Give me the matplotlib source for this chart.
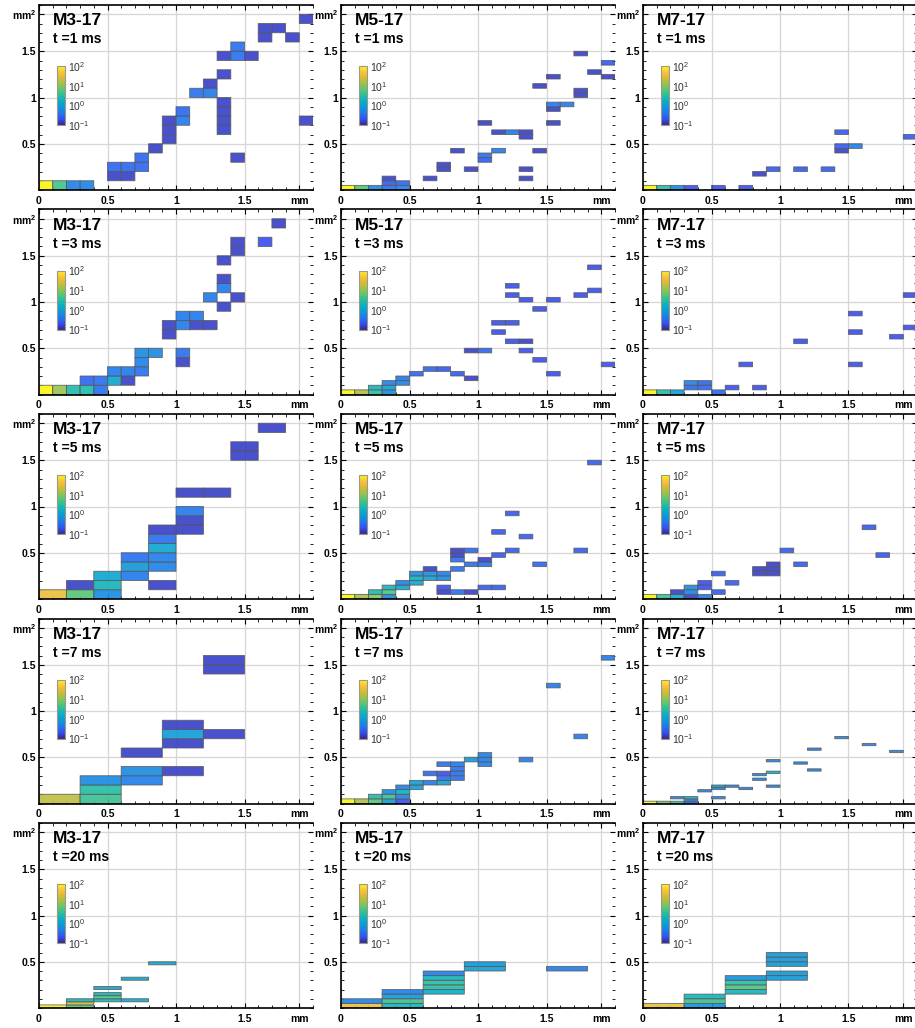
import numpy as np
import matplotlib
matplotlib.use("Agg")
import matplotlib.pyplot as plt
from matplotlib.colors import LinearSegmentedColormap, LogNorm
from matplotlib.cm import ScalarMappable
from matplotlib.ticker import MultipleLocator

plt.rcParams['font.family'] = ['Liberation Sans', 'DejaVu Sans']
plt.rcParams['mathtext.default'] = 'regular'

# parula-like colour map
parula_rgb = [(0.208, 0.166, 0.529), (0.212, 0.300, 0.960), (0.120, 0.470, 0.930),
              (0.060, 0.590, 0.850), (0.030, 0.680, 0.780), (0.150, 0.740, 0.630),
              (0.350, 0.780, 0.440), (0.620, 0.760, 0.290), (0.850, 0.730, 0.200),
              (0.990, 0.760, 0.240), (0.976, 0.983, 0.054)]
parula = LinearSegmentedColormap.from_list('parula', parula_rgb)

samples = ['M3-17', 'M5-17', 'M7-17']
times = [1, 3, 5, 7, 20]

# bin width (mm) and bin height (mm^2) for each time row / sample column
bin_dx = [[0.1, 0.1, 0.1], [0.1, 0.1, 0.1], [0.2, 0.1, 0.1], [0.3, 0.1, 0.1], [0.2, 0.3, 0.3]]
bin_dy = [[0.1, 0.05, 0.05], [0.1, 0.05, 0.05], [0.1, 0.05, 0.05], [0.1, 0.05, 0.025], [1 / 30, 0.05, 0.05]]

# occupied bins: (x bin, y bin, count density)
m3_t1 = [(0, 0, 90), (1, 0, 4.5), (2, 0, 0.5), (3, 0, 0.5), (5, 1, 0.15), (6, 1, 0.15),
         (5, 2, 0.3), (6, 2, 0.3), (7, 2, 0.3), (7, 3, 0.3), (8, 4, 0.15), (9, 5, 0.15),
         (9, 6, 0.15), (9, 7, 0.15), (10, 7, 0.4), (10, 8, 0.3), (11, 10, 0.35), (12, 10, 0.4),
         (12, 11, 0.15), (13, 6, 0.15), (13, 7, 0.15), (13, 8, 0.15), (13, 9, 0.15), (13, 12, 0.15),
         (13, 14, 0.15), (14, 14, 0.35), (14, 15, 0.35), (14, 3, 0.15), (15, 14, 0.15),
         (16, 16, 0.15), (16, 17, 0.15), (17, 17, 0.15), (18, 16, 0.15), (19, 18, 0.15), (19, 7, 0.15)]
m3_t3 = [(0, 0, 90), (1, 0, 12), (2, 0, 2.5), (3, 0, 2.5), (4, 0, 0.35), (3, 1, 0.3), (4, 1, 0.35),
         (5, 1, 1.2), (6, 1, 0.15), (5, 2, 0.4), (6, 2, 0.4), (7, 2, 0.35), (7, 3, 0.5), (7, 4, 0.6),
         (8, 4, 0.6), (10, 3, 0.15), (10, 4, 0.35), (9, 6, 0.15), (9, 7, 0.15), (10, 7, 0.4),
         (11, 7, 0.15), (12, 7, 0.15), (10, 8, 0.4), (11, 8, 0.4), (13, 9, 0.15), (12, 10, 0.4),
         (14, 10, 0.15), (13, 11, 0.4), (13, 12, 0.15), (13, 14, 0.15), (14, 15, 0.15),
         (14, 16, 0.15), (16, 16, 0.2), (17, 18, 0.15)]
m3_t5 = [(0, 0, 35), (1, 0, 6), (2, 0, 0.6), (1, 1, 0.15), (2, 1, 2), (2, 2, 1.2), (3, 2, 0.4),
         (3, 3, 0.8), (3, 4, 0.35), (4, 1, 0.15), (4, 3, 0.5), (4, 4, 0.45), (4, 5, 1.2), (4, 6, 0.35),
         (4, 7, 0.15), (5, 7, 0.15), (5, 8, 0.15), (5, 9, 0.4), (5, 11, 0.15), (6, 11, 0.15),
         (7, 15, 0.15), (7, 16, 0.15), (8, 18, 0.15)]
m3_t7 = [(0, 0, 18), (1, 0, 4), (1, 1, 3), (1, 2, 0.6), (2, 2, 0.45), (2, 3, 0.6), (3, 3, 0.15),
         (2, 5, 0.15), (3, 6, 0.15), (3, 7, 0.9), (4, 7, 0.15), (3, 8, 0.15), (4, 14, 0.15), (4, 15, 0.15)]
m3_t20 = [(0, 0, 90), (1, 0, 6), (1, 1, 25), (1, 2, 2), (2, 2, 2), (2, 3, 5), (2, 4, 2),
          (2, 6, 1.2), (3, 2, 1.2), (3, 9, 1.2), (4, 14, 1.2)]

m5_t1 = [(0, 0, 90), (1, 0, 6), (2, 0, 0.6), (3, 0, 0.35), (4, 0, 0.45), (3, 1, 0.25), (3, 2, 0.15),
         (4, 1, 0.3), (6, 2, 0.15), (7, 4, 0.15), (7, 5, 0.15), (8, 8, 0.15), (9, 4, 0.15),
         (10, 6, 0.25), (10, 7, 0.35), (10, 14, 0.15), (11, 12, 0.15), (11, 8, 0.4), (12, 12, 0.4),
         (13, 11, 0.15), (13, 12, 0.15), (13, 4, 0.15), (13, 2, 0.15), (14, 22, 0.15), (14, 8, 0.15),
         (15, 24, 0.15), (15, 18, 0.4), (15, 17, 0.15), (15, 14, 0.15), (16, 18, 0.4), (17, 29, 0.15),
         (17, 21, 0.15), (17, 20, 0.15), (18, 25, 0.15), (19, 27, 0.25), (19, 24, 0.15)]
m5_t3 = [(0, 0, 90), (1, 0, 15), (2, 0, 3), (3, 0, 0.6), (2, 1, 2), (3, 1, 1), (3, 2, 0.5),
         (4, 2, 0.5), (4, 3, 0.4), (5, 4, 0.3), (6, 5, 0.3), (7, 5, 0.25), (8, 4, 0.25), (9, 3, 0.15),
         (9, 9, 0.15), (10, 9, 0.3), (11, 15, 0.2), (12, 15, 0.2), (12, 21, 0.2), (12, 23, 0.2),
         (13, 20, 0.2), (11, 13, 0.2), (12, 11, 0.2), (13, 11, 0.15), (13, 9, 0.2), (14, 18, 0.2),
         (14, 7, 0.2), (15, 20, 0.2), (15, 4, 0.2), (17, 21, 0.2), (18, 22, 0.2), (18, 27, 0.2),
         (19, 6, 0.2)]
m5_t5 = [(0, 0, 90), (1, 0, 15), (2, 0, 10), (3, 0, 0.6), (2, 1, 2.5), (3, 1, 5), (3, 2, 2),
         (4, 2, 1.2), (4, 3, 0.5), (5, 3, 1.2), (5, 4, 1.8), (6, 4, 1), (7, 4, 0.6), (5, 5, 0.6),
         (6, 5, 0.7), (7, 5, 0.45), (6, 6, 0.15), (8, 6, 0.35), (8, 8, 0.35), (8, 9, 0.15),
         (8, 10, 0.15), (9, 10, 0.3), (9, 7, 0.35), (10, 7, 0.35), (10, 8, 0.15), (11, 9, 0.25),
         (12, 10, 0.25), (14, 7, 0.3), (17, 10, 0.25), (11, 14, 0.25), (12, 18, 0.25), (13, 13, 0.25),
         (18, 29, 0.25), (7, 1, 0.15), (7, 2, 0.2), (8, 1, 0.35), (9, 1, 0.15), (10, 2, 0.25),
         (11, 2, 0.25)]
m5_t7 = [(0, 0, 90), (1, 0, 15), (2, 0, 6), (3, 0, 0.9), (4, 0, 0.2), (2, 1, 2.5), (3, 1, 4),
         (4, 1, 0.5), (3, 2, 0.6), (4, 2, 1.8), (4, 3, 0.5), (5, 3, 0.9), (5, 4, 0.9), (6, 4, 0.4),
         (7, 4, 1), (7, 5, 0.35), (6, 6, 0.3), (7, 6, 0.2), (8, 5, 0.35), (8, 6, 0.35), (8, 7, 0.35),
         (8, 8, 0.4), (7, 8, 0.35), (9, 9, 0.8), (10, 8, 0.45), (10, 9, 0.45), (10, 10, 0.45),
         (13, 9, 0.4), (15, 25, 0.4), (17, 14, 0.4), (19, 31, 0.4)]
m5_t20 = [(0, 0, 35), (0, 1, 0.5), (1, 0, 2), (1, 1, 4), (1, 2, 0.8), (1, 3, 0.45), (2, 3, 1.5),
          (2, 4, 3), (2, 5, 3), (2, 6, 2), (2, 7, 0.45), (3, 8, 1), (3, 9, 0.8), (5, 8, 0.45)]

m7_t1 = [(0, 0, 90), (1, 0, 3), (2, 0, 0.6), (3, 0, 0.2), (5, 0, 0.2), (7, 0, 0.2), (8, 3, 0.15),
         (9, 4, 0.25), (11, 4, 0.25), (13, 4, 0.25), (14, 12, 0.25), (14, 9, 0.25), (14, 8, 0.15),
         (15, 9, 0.45), (19, 11, 0.25)]
m7_t3 = [(0, 0, 90), (1, 0, 3), (2, 0, 1), (3, 1, 0.3), (3, 2, 0.5), (4, 1, 0.3), (4, 2, 0.3),
         (5, 0, 0.3), (6, 1, 0.2), (7, 6, 0.2), (8, 1, 0.2), (11, 11, 0.2), (15, 17, 0.2),
         (15, 13, 0.2), (15, 6, 0.2), (18, 12, 0.2), (19, 21, 0.2), (19, 14, 0.2)]
m7_t5 = [(0, 0, 90), (1, 0, 4), (2, 0, 1.5), (3, 0, 0.15), (4, 0, 0.4), (2, 1, 0.15), (3, 1, 0.5),
         (5, 1, 0.25), (3, 2, 0.6), (4, 2, 0.2), (4, 3, 0.2), (6, 3, 0.25), (5, 5, 0.25), (8, 5, 0.15),
         (8, 6, 0.15), (9, 5, 0.15), (9, 6, 0.15), (9, 7, 0.15), (10, 10, 0.25), (11, 7, 0.25),
         (16, 15, 0.25), (17, 9, 0.25)]
m7_t7 = [(0, 0, 90), (1, 0, 8), (2, 0, 3), (3, 0, 0.25), (3, 1, 0.5), (3, 2, 2), (2, 2, 0.5),
         (4, 5, 0.5), (5, 7, 1), (5, 6, 0.5), (5, 2, 0.5), (6, 7, 0.5), (7, 6, 0.5), (8, 12, 0.5),
         (8, 10, 0.5), (9, 18, 0.5), (9, 13, 1.5), (9, 7, 0.5), (11, 17, 0.5), (12, 23, 0.5),
         (12, 14, 0.5), (14, 28, 0.5), (16, 25, 0.5), (18, 22, 0.5)]
m7_t20 = [(0, 0, 35), (1, 0, 0.7), (1, 1, 4), (1, 2, 2), (2, 3, 2), (2, 4, 5), (2, 5, 3),
          (2, 6, 0.7), (3, 6, 0.8), (3, 7, 0.8), (3, 9, 0.8), (3, 10, 0.8), (3, 11, 0.8)]

cells = [[m3_t1, m5_t1, m7_t1],
         [m3_t3, m5_t3, m7_t3],
         [m3_t5, m5_t5, m7_t5],
         [m3_t7, m5_t7, m7_t7],
         [m3_t20, m5_t20, m7_t20]]

W, H = 915, 1028
fig = plt.figure(figsize=(W / 100, H / 100), dpi=100)
col_left = [39, 341, 643]
row_top = [5, 209.5, 414, 618.5, 823]
ax_w, ax_h = 274, 185
norm = LogNorm(0.1, 100)

for r, t in enumerate(times):
    for c, name in enumerate(samples):
        ax = fig.add_axes([col_left[c] / W, 1 - (row_top[r] + ax_h) / H, ax_w / W, ax_h / H])
        dx, dy = bin_dx[r][c], bin_dy[r][c]
        nx, ny = int(round(2 / dx)), int(round(2 / dy))
        grid = np.full((ny, nx), np.nan)
        for ix, iy, v in cells[r][c]:
            grid[iy, ix] = v
        xe = np.arange(nx + 1) * dx
        ye = np.arange(ny + 1) * dy
        ax.pcolor(xe, ye, np.ma.masked_invalid(grid), cmap=parula, norm=norm,
                  edgecolors=(0.35, 0.35, 0.35), linewidth=0.6, alpha=0.9)

        ax.set_xlim(0, 2)
        ax.set_ylim(0, 2)
        ax.set_xticks([0, 0.5, 1, 1.5, 1.9])
        ax.set_xticklabels(['0', '0.5', '1', '1.5', 'mm'])
        ax.set_yticks([0.5, 1, 1.5, 1.9])
        ax.set_yticklabels(['0.5', '1', '1.5', 'mm$^2$'])
        ax.xaxis.set_minor_locator(MultipleLocator(0.1))
        ax.yaxis.set_minor_locator(MultipleLocator(0.1))
        ax.tick_params(which='both', direction='in', top=True, right=True, labelsize=7.5)
        ax.tick_params(which='major', length=3.5, width=0.8)
        ax.tick_params(which='minor', length=2, width=0.6)
        ax.tick_params(axis='x', pad=4)
        ax.tick_params(axis='y', pad=2)
        for lbl in ax.get_xticklabels() + ax.get_yticklabels():
            lbl.set_fontweight('bold')
        ax.grid(True, which='major', color=(0.84, 0.84, 0.84), lw=0.9)
        ax.set_axisbelow(True)
        for side in ['left', 'bottom', 'top']:
            ax.spines[side].set_linewidth(1.2)
        ax.spines['right'].set_visible(False)

        ax.text(0.05, 0.915, name, transform=ax.transAxes, fontsize=12.5,
                fontweight='bold', va='center', ha='left')
        ax.text(0.05, 0.815, f't ={t} ms', transform=ax.transAxes, fontsize=10,
                fontweight='bold', va='center', ha='left')

        cax = ax.inset_axes([0.066, 0.351, 0.03, 0.319])
        cb = fig.colorbar(ScalarMappable(norm=norm, cmap=parula), cax=cax)
        cb.set_ticks([0.1, 1, 10, 100])
        cb.minorticks_off()
        cb.outline.set_edgecolor((0.6, 0.6, 0.55))
        cb.outline.set_linewidth(0.8)
        cax.tick_params(length=0, labelsize=7.5, pad=2, colors=(0.2, 0.2, 0.2))

fig.savefig('out.png', dpi=100)
